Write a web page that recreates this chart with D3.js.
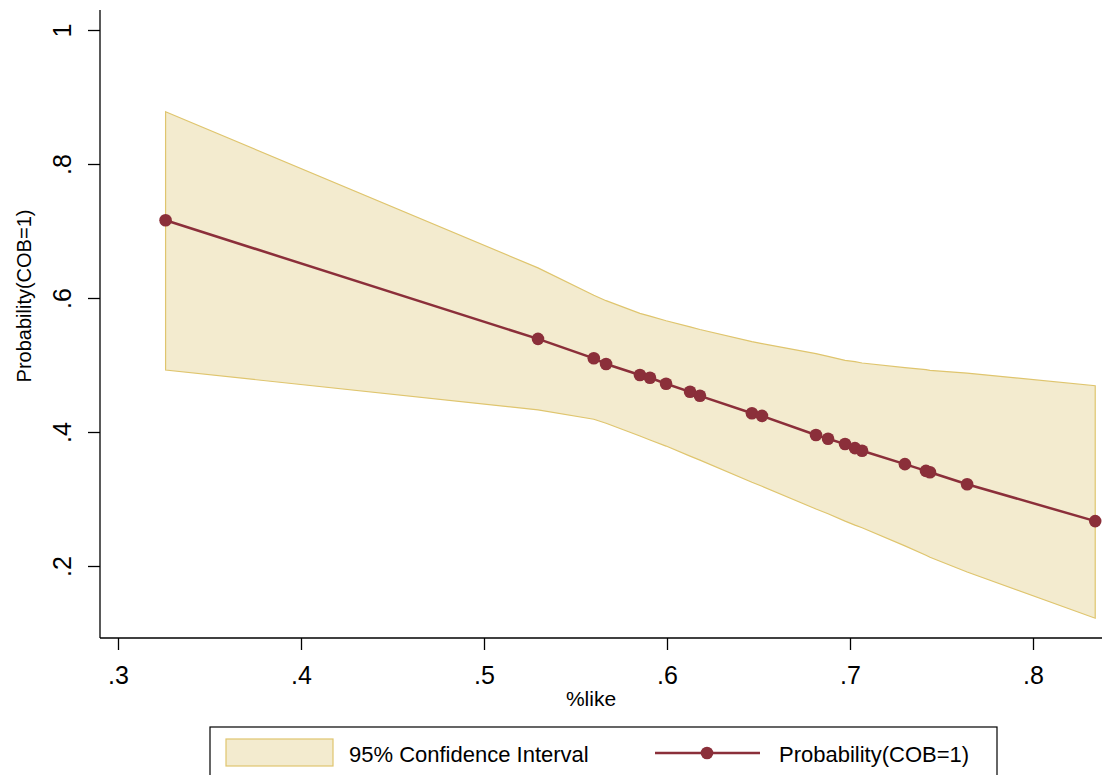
<!DOCTYPE html>
<html>
<head>
<meta charset="utf-8">
<script src="https://cdn.jsdelivr.net/npm/d3@7"></script>
<style>
  body { margin: 0; background: #fff; }
  svg { display: block; font-family: "Liberation Sans", Arial, sans-serif; }
</style>
</head>
<body>
<svg id="chart" width="1102" height="775"></svg>
<script>
// %like values at each predicted point
var likeVals = [0.326, 0.5295, 0.560, 0.5667, 0.5852, 0.5907, 0.5995, 0.6126, 0.618, 0.6464, 0.6519,
  0.6814, 0.688, 0.6973, 0.7027, 0.7066, 0.730, 0.7415, 0.7437, 0.764, 0.834];
// predicted Probability(COB=1)
var probVals = [0.716, 0.539, 0.510, 0.5015, 0.485, 0.481, 0.472, 0.460, 0.454, 0.428, 0.424,
  0.3955, 0.390, 0.382, 0.376, 0.372, 0.352, 0.342, 0.340, 0.322, 0.267];
// 95% CI bounds
var ciHi = [0.878, 0.645, 0.604, 0.596, 0.577, 0.573, 0.566, 0.557, 0.553, 0.535, 0.532,
  0.517, 0.513, 0.507, 0.505, 0.503, 0.496, 0.493, 0.492, 0.488, 0.469];
var ciLo = [0.4925, 0.433, 0.419, 0.413, 0.394, 0.388, 0.379, 0.364, 0.358, 0.325, 0.319,
  0.285, 0.278, 0.267, 0.261, 0.257, 0.230, 0.216, 0.213, 0.191, 0.122];

var xTicks = [0.3, 0.4, 0.5, 0.6, 0.7, 0.8];
var yTicks = [0.2, 0.4, 0.6, 0.8, 1];

var fmt = function(v){ return v === 1 ? "1" : d3.format(".1f")(v).replace(/^0/, ""); };

var lineCol = "#8b2f3a", bandFill = "#f3ebcf", bandLine = "#dfc56e";

var svg = d3.select("#chart");
var x = d3.scaleLinear().domain([0.3, 0.8]).range([118, 1033]);
var y = d3.scaleLinear().domain([0.2, 1]).range([566, 30]);

var pts = likeVals.map(function(v, i){ return {x: v, p: probVals[i], lo: ciLo[i], hi: ciHi[i]}; });

// band
svg.append("path")
  .datum(pts)
  .attr("d", d3.area().x(d => x(d.x)).y0(d => y(d.lo)).y1(d => y(d.hi)))
  .attr("fill", bandFill)
  .attr("stroke", bandLine)
  .attr("stroke-width", 1.2);

// line + markers
svg.append("path")
  .datum(pts)
  .attr("d", d3.line().x(d => x(d.x)).y(d => y(d.p)))
  .attr("fill", "none")
  .attr("stroke", lineCol)
  .attr("stroke-width", 2.5);

svg.selectAll("circle.pt").data(pts).join("circle")
  .attr("class", "pt")
  .attr("cx", d => x(d.x)).attr("cy", d => y(d.p)).attr("r", 6.3)
  .attr("fill", lineCol);

// axes
var xAxisG = svg.append("g").attr("transform", "translate(0,638)")
  .call(d3.axisBottom(x).tickValues(xTicks).tickFormat(fmt).tickSize(12).tickSizeOuter(0));
xAxisG.select(".domain").remove();
xAxisG.append("line").attr("x1", 100).attr("x2", 1102).attr("stroke", "#000").attr("stroke-width", 1.3);
xAxisG.selectAll(".tick line").attr("stroke", "#000").attr("stroke-width", 1.3);
xAxisG.selectAll(".tick text").attr("font-size", 25).attr("fill", "#000").attr("dy", 0).attr("y", 46);

var yAxisG = svg.append("g").attr("transform", "translate(100,0)")
  .call(d3.axisLeft(y).tickValues(yTicks).tickFormat(fmt).tickSize(12).tickSizeOuter(0));
yAxisG.select(".domain").remove();
yAxisG.append("line").attr("y1", 10).attr("y2", 638).attr("stroke", "#000").attr("stroke-width", 1.3);
yAxisG.selectAll(".tick line").attr("stroke", "#000").attr("stroke-width", 1.3);
yAxisG.selectAll(".tick text")
  .attr("font-size", 25).attr("fill", "#000")
  .attr("x", null).attr("dy", null)
  .attr("text-anchor", "middle")
  .attr("transform", "translate(-29,0) rotate(-90)");

// axis titles
svg.append("text").attr("x", 591).attr("y", 706).attr("text-anchor", "middle")
  .attr("font-size", 21).text("%like");
svg.append("text").attr("transform", "translate(31,296) rotate(-90)").attr("text-anchor", "middle")
  .attr("font-size", 20).text("Probability(COB=1)");

// legend
var leg = svg.append("g");
leg.append("rect").attr("x", 210).attr("y", 727).attr("width", 787).attr("height", 60)
  .attr("fill", "#fff").attr("stroke", "#000").attr("stroke-width", 1.2);
leg.append("rect").attr("x", 226).attr("y", 739).attr("width", 107).attr("height", 27)
  .attr("fill", bandFill).attr("stroke", bandLine).attr("stroke-width", 1.2);
leg.append("text").attr("x", 349).attr("y", 762).attr("font-size", 22).text("95% Confidence Interval");
leg.append("line").attr("x1", 655).attr("x2", 760).attr("y1", 753).attr("y2", 753)
  .attr("stroke", lineCol).attr("stroke-width", 2.5);
leg.append("circle").attr("cx", 707).attr("cy", 753).attr("r", 6.3).attr("fill", lineCol);
leg.append("text").attr("x", 779).attr("y", 762).attr("font-size", 22).text("Probability(COB=1)");
</script>
</body>
</html>
